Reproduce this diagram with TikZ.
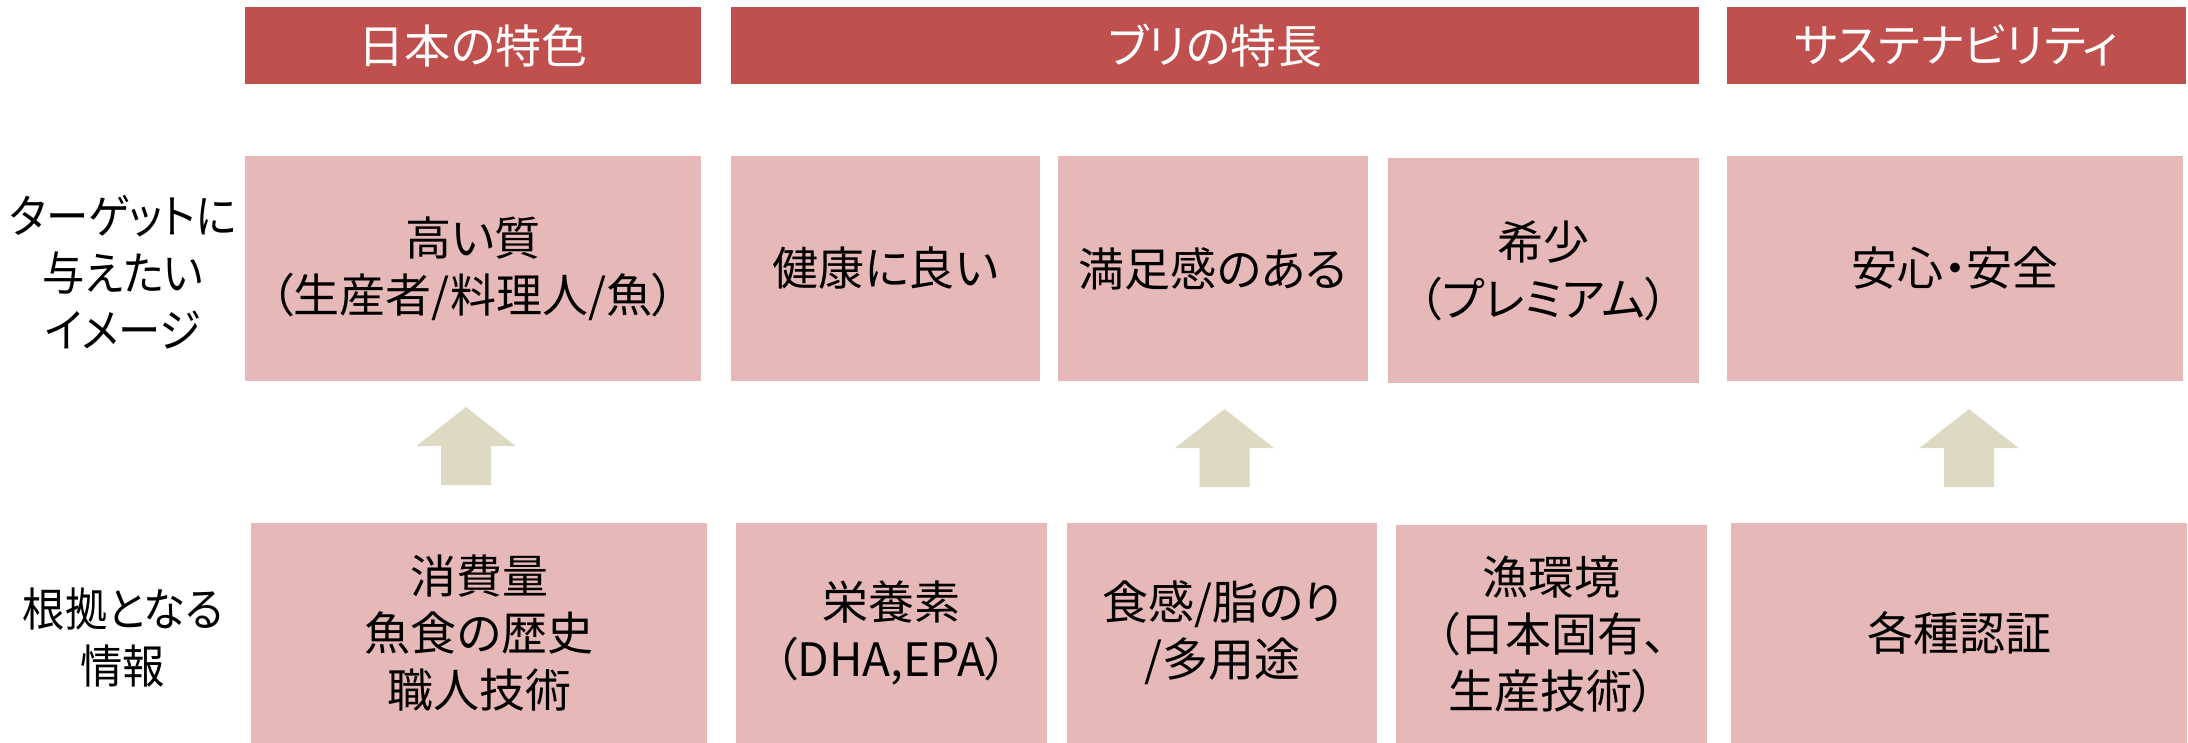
\documentclass[tikz,border=0pt]{standalone}
\usepackage{fontspec}
\setmainfont{Noto Sans CJK JP}[RawFeature=+palt]
\newfontfamily\narrowjp{Noto Sans CJK JP}[RawFeature=+palt, FakeStretch=0.92]
\definecolor{hdrc}{HTML}{C0504D}
\definecolor{cellc}{HTML}{E6B8B7}
\definecolor{arrc}{HTML}{DDD9C3}
\begin{document}
\begin{tikzpicture}[x=0.5pt,y=-0.5pt,
  txt/.style={font=\fontsize{23pt}{28.5pt}\selectfont},
  hdrbox/.style={txt, fill=hdrc, text=white, inner sep=0pt, minimum height=38.5pt},
  cellbox/.style={txt, fill=cellc, text=black, inner sep=0pt, align=center},
  toprow/.style={cellbox, minimum height=112.5pt},
  botrow/.style={cellbox, minimum height=110pt},
  rowlabel/.style={font=\narrowjp\fontsize{23pt}{28.5pt}\selectfont, align=center, inner sep=0pt},
  uparrow/.pic={\fill[arrc] (0,0) -- (49.5,39) -- (25,39) -- (25,78) -- (-25,78) -- (-25,39) -- (-49.5,39) -- cycle;}
]
\useasboundingbox (0,0) rectangle (2188,743);
% headers
\node[hdrbox, minimum width=228pt] (h1) at (473,45.5) {日本の特色};
\node[hdrbox, minimum width=484pt] (h2) at (1215,45.5) {ブリの特長};
\node[hdrbox, minimum width=229.5pt] (h3) at (1956.5,45.5) {サステナビリティ};
% row labels
\node[rowlabel] (l1) at (123,272) {ターゲットに\\与えたい\\イメージ};
\node[rowlabel] (l2) at (123,638) {根拠となる\\情報};
% top row
\node[toprow, minimum width=228pt] (a) at (473,268.5) {高い質\\（生産者/料理人/魚）};
\node[toprow, minimum width=154.5pt] (b) at (885.5,268.5) {健康に良い};
\node[toprow, minimum width=155pt] (c) at (1213,268.5) {満足感のある};
\node[toprow, minimum width=155.5pt] (d) at (1543.5,270.5) {希少\\（プレミアム）};
\node[toprow, minimum width=228pt] (e) at (1955,268.5) {安心・安全};
% bottom row
\node[botrow, minimum width=228pt] (f) at (479,633) {消費量\\魚食の歴史\\職人技術};
\node[botrow, minimum width=155.5pt] (g) at (891.5,633) {栄養素\\（DHA,EPA）};
\node[botrow, minimum width=155pt] (hh) at (1222,633) {食感/脂のり\\/多用途};
\node[botrow, minimum width=155.5pt, minimum height=109pt] (i) at (1551.5,634) {漁環境\\（日本固有、\\生産技術）};
\node[botrow, minimum width=228pt] (j) at (1959,633) {各種認証};
% block arrows
\coordinate (t1) at (466,407);
\coordinate (t2) at (1224.5,409);
\coordinate (t3) at (1969,409);
\pic at (t1) {uparrow};
\pic at (t2) {uparrow};
\pic at (t3) {uparrow};
\end{tikzpicture}
\end{document}
